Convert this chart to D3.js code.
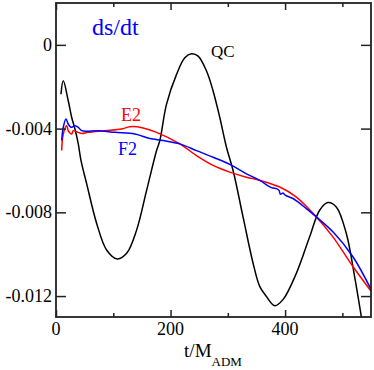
<!DOCTYPE html>
<html>
<head>
<meta charset="utf-8">
<script src="https://cdnjs.cloudflare.com/ajax/libs/d3/7.8.5/d3.min.js"></script>
<style>
  body { margin: 0; background: #fff; }
  svg { display: block; }
</style>
</head>
<body>
<div id="myChart"></div>
<script>
// data: t in M_ADM, ds/dt
var qcT = [8.7, 12.7, 21.4, 27.4, 33.1, 38.9, 43.6, 53.5, 71.0, 88.4, 106.9, 123.3, 140.7, 158.2, 175.6, 181.3, 193.0, 210.5, 224.9, 236.6, 248.1, 262.8, 274.3, 286.0, 297.6, 309.2, 326.6, 344.1, 355.7, 367.4, 381.9, 396.3, 419.7, 442.9, 460.3, 474.8, 489.4, 506.9, 521.4, 533.0, 540.0];
var qcV = [-0.00236, -0.00172, -0.00267, -0.00347, -0.00402, -0.00473, -0.00552, -0.00663, -0.00853, -0.00980, -0.01023, -0.00996, -0.00885, -0.00695, -0.00505, -0.00457, -0.00283, -0.00141, -0.00062, -0.00043, -0.00054, -0.00125, -0.00220, -0.00347, -0.00489, -0.00600, -0.00822, -0.01043, -0.01154, -0.01202, -0.01246, -0.01217, -0.01091, -0.00917, -0.00790, -0.00753, -0.00774, -0.00901, -0.01107, -0.01297, -0.01420];

var f2T = [9.9, 12.7, 17.4, 21.4, 26.2, 33.1, 38.9, 44.8, 53.5, 73.2, 102.9, 137.7, 163.9, 187.1, 216.2, 245.3, 274.3, 303.4, 332.5, 355.7, 376.1, 384.8, 389.4, 391.8, 396.3, 401.0, 413.8, 437.1, 454.6, 483.5, 518.4, 550.5];
var f2V = [-0.00457, -0.00394, -0.00354, -0.00378, -0.00394, -0.00386, -0.00394, -0.00410, -0.00413, -0.00410, -0.00418, -0.00426, -0.00447, -0.00457, -0.00473, -0.00505, -0.00537, -0.00571, -0.00616, -0.00647, -0.00682, -0.00687, -0.00695, -0.00714, -0.00708, -0.00719, -0.00734, -0.00782, -0.00822, -0.00893, -0.01012, -0.01170];

var e2T = [9.9, 12.7, 18.7, 21.4, 27.4, 30.2, 38.9, 44.8, 55.8, 85.4, 114.6, 129.0, 152.2, 175.6, 216.2, 245.3, 274.3, 303.4, 332.5, 355.7, 390.6, 419.7, 454.6, 483.5, 518.4, 550.5];
var e2V = [-0.00505, -0.00426, -0.00386, -0.00410, -0.00426, -0.00410, -0.00418, -0.00423, -0.00418, -0.00410, -0.00402, -0.00391, -0.00397, -0.00418, -0.00473, -0.00529, -0.00576, -0.00608, -0.00632, -0.00647, -0.00679, -0.00727, -0.00822, -0.00917, -0.01059, -0.01178];

var xMajor = [0, 200, 400];
var xMinor = [100, 300, 500];
var yMajor = [0, -0.004, -0.008, -0.012];
var yLabels = ["0", "-0.004", "-0.008", "-0.012"];

var series = [
  { name: "QC", t: qcT, v: qcV, color: "#000000" },
  { name: "E2", t: e2T, v: e2V, color: "#ff0000" },
  { name: "F2", t: f2T, v: f2V, color: "#0000ff" }
];

///////////////////////////////////////////
var W = 374, H = 370;
var margin = { left: 56, right: 3, top: 3, bottom: 53 };
var serif = "'Liberation Serif', 'DejaVu Serif', 'Times New Roman', serif";

var svg = d3.select("#myChart").append("svg")
  .attr("width", W)
  .attr("height", H)
  .attr("font-family", serif)
  .style("font-family", serif);

var x = d3.scaleLinear().domain([0, 550]).range([margin.left, W - margin.right]);
var y = d3.scaleLinear().domain([-0.013, 0.002]).range([H - margin.bottom, margin.top]);

svg.append("clipPath").attr("id", "clip")
  .append("rect")
  .attr("x", x(0)).attr("y", y(0.002))
  .attr("width", x(550) - x(0))
  .attr("height", y(-0.013) - y(0.002));

// curves
var line = d3.line()
  .x(function(d) { return x(d[0]); })
  .y(function(d) { return y(d[1]); })
  .curve(d3.curveCatmullRom.alpha(0.5));

var plot = svg.append("g").attr("clip-path", "url(#clip)");
series.forEach(function(s) {
  plot.append("path")
    .datum(d3.zip(s.t, s.v))
    .attr("d", line)
    .attr("fill", "none")
    .attr("stroke", s.color)
    .attr("stroke-width", 1.5);
});

// axes (ticks point inward, mirrored on top / right)
function noLabels(a) { return a.tickFormat(""); }

svg.append("g")
  .attr("transform", "translate(0," + y(-0.013) + ")")
  .call(noLabels(d3.axisTop(x).tickValues(xMajor).tickSize(7).tickSizeOuter(0)));
svg.append("g")
  .attr("transform", "translate(0," + y(-0.013) + ")")
  .call(noLabels(d3.axisTop(x).tickValues(xMinor).tickSize(4).tickSizeOuter(0)));
svg.append("g")
  .attr("transform", "translate(0," + y(0.002) + ")")
  .call(noLabels(d3.axisBottom(x).tickValues(xMajor).tickSize(7).tickSizeOuter(0)));
svg.append("g")
  .attr("transform", "translate(0," + y(0.002) + ")")
  .call(noLabels(d3.axisBottom(x).tickValues(xMinor).tickSize(4).tickSizeOuter(0)));
svg.append("g")
  .attr("transform", "translate(" + x(0) + ",0)")
  .call(noLabels(d3.axisRight(y).tickValues(yMajor).tickSize(10).tickSizeOuter(0)));
svg.append("g")
  .attr("transform", "translate(" + x(550) + ",0)")
  .call(noLabels(d3.axisLeft(y).tickValues(yMajor).tickSize(10).tickSizeOuter(0)));

svg.selectAll(".domain").remove();
svg.selectAll(".tick line").attr("stroke", "#222").attr("stroke-width", 1.5);

// frame
svg.append("rect")
  .attr("x", x(0)).attr("y", y(0.002))
  .attr("width", x(550) - x(0))
  .attr("height", y(-0.013) - y(0.002))
  .attr("fill", "none")
  .attr("stroke", "#222")
  .attr("stroke-width", 1.8);

// tick labels
svg.selectAll(".xlab")
  .data(xMajor)
  .enter().append("text")
  .attr("x", function(d) { return x(d); })
  .attr("y", 335)
  .attr("text-anchor", "middle")
  .attr("font-size", 18)
  .text(function(d) { return d; });

svg.selectAll(".ylab")
  .data(yMajor)
  .enter().append("text")
  .attr("x", 52)
  .attr("y", function(d) { return y(d) + 6; })
  .attr("text-anchor", "end")
  .attr("font-size", 18)
  .text(function(d, i) { return yLabels[i]; });

// axis title t/M_ADM
var xt = svg.append("text")
  .attr("x", 213)
  .attr("y", 357)
  .attr("text-anchor", "middle")
  .attr("font-size", 19)
  .text("t/M");
xt.append("tspan")
  .attr("dy", 9)
  .attr("font-size", 13)
  .text("ADM");

// in-plot labels
svg.append("text").attr("x", 92).attr("y", 35).attr("font-size", 24)
  .attr("fill", "#0000ff").text("ds/dt");
svg.append("text").attr("x", 211).attr("y", 57).attr("font-size", 17)
  .attr("fill", "#000").text("QC");
svg.append("text").attr("x", 121).attr("y", 121).attr("font-size", 18)
  .attr("fill", "#ff0000").text("E2");
svg.append("text").attr("x", 118).attr("y", 155).attr("font-size", 18)
  .attr("fill", "#0000ff").text("F2");
</script>
</body>
</html>
